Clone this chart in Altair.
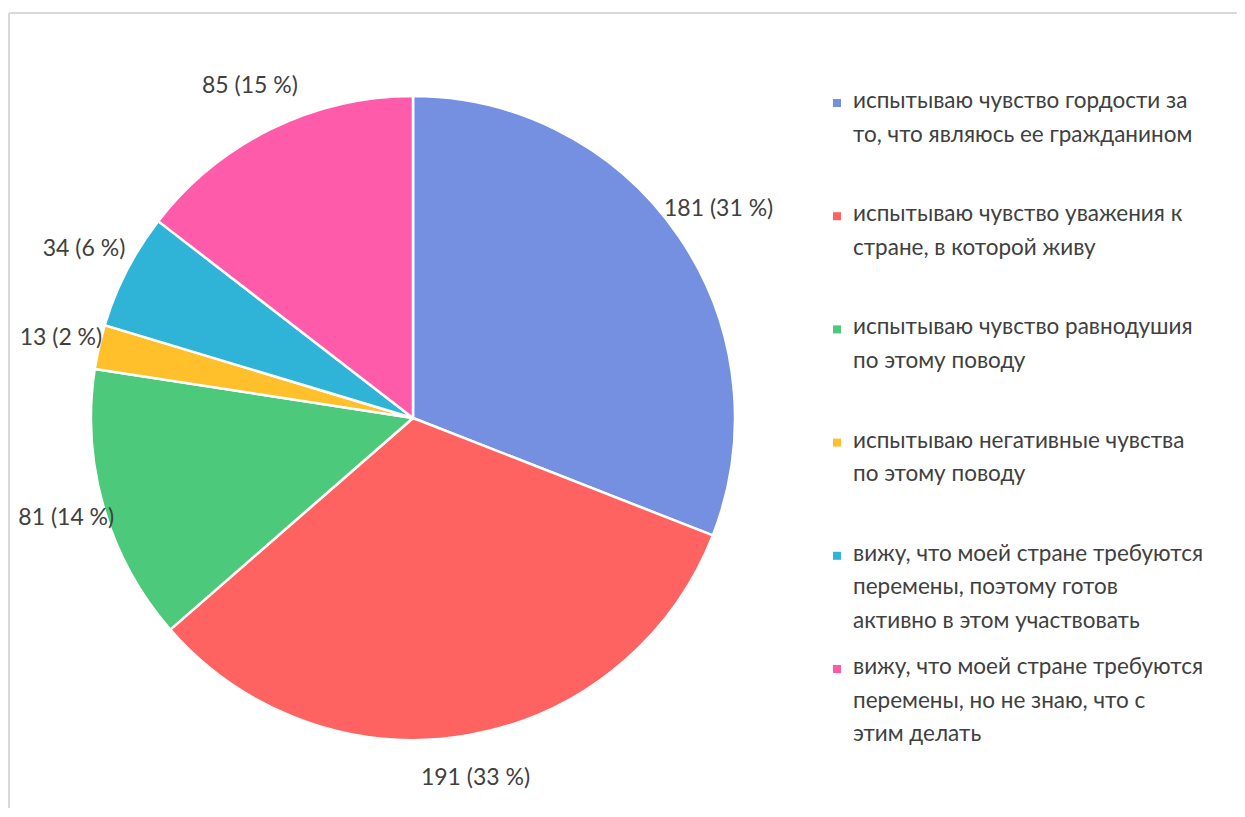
import altair as alt
import pandas as pd

categories = ["гордость", "уважение", "равнодушие", "негатив", "готов", "не знаю"]
legend_labels = [
    "испытываю чувство гордости за\nто, что являюсь ее гражданином",
    "испытываю чувство уважения к\nстране, в которой живу",
    "испытываю чувство равнодушия\nпо этому поводу",
    "испытываю негативные чувства\nпо этому поводу",
    "вижу, что моей стране требуются\nперемены, поэтому готов\nактивно в этом участвовать",
    "вижу, что моей стране требуются\nперемены, но не знаю, что с\nэтим делать",
]
counts = [181, 191, 81, 13, 34, 85]
percents = [31, 33, 14, 2, 6, 15]
colors = ["#7590E0", "#FF6361", "#4CC97A", "#FFC02B", "#2FB4D8", "#FF5BAB"]

df = pd.DataFrame({
    "cat": categories,
    "legend": legend_labels,
    "count": counts,
    "pct": percents,
    "idx": list(range(len(categories))),
})
df["label"] = [f"{c} ({p} %)" for c, p in zip(counts, percents)]

FONT = "Lato"
TXT = "#404040"
CX, CY, R = 405, 410, 322

base = alt.Chart(df)
color = alt.Color("cat:N", scale=alt.Scale(domain=categories, range=colors), legend=None)

pie = base.mark_arc(radius=R, stroke="white", strokeWidth=2.5).encode(
    theta=alt.Theta("count:Q", stack=True),
    color=color,
    order=alt.Order("idx:Q"),
    x=alt.value(CX), y=alt.value(CY),
)

# labels at each slice's middle angle; left side labels sit closer to the pie
labels = base.transform_joinaggregate(
    total="sum(count)"
).transform_window(
    cum="sum(count)", sort=[alt.SortField("idx")], frame=[None, 0]
).transform_calculate(
    midcount="datum.cum - datum.count / 2",
).transform_calculate(
    mid="datum.midcount / datum.total",
).transform_calculate(
    ring="datum.mid > 0.55 && datum.mid < 0.8 ? 'side' : (datum.mid > 0.4 && datum.mid <= 0.55 ? 'bottom' : 'top')",
).mark_text(font=FONT, fontSize=23, color=TXT).encode(
    theta=alt.Theta("midcount:Q", stack=None),
    radius=alt.Radius("ring:N", scale=alt.Scale(type="ordinal", domain=["side", "bottom", "top"], range=[361, 370, 386])),
    text="label:N",
    x=alt.value(CX), y=alt.value(CY),
)

yleg = alt.Y("cat:N", scale=alt.Scale(type="point", domain=categories, range=[95, 661], padding=0), axis=None)

leg_sym = base.mark_square(size=64, opacity=1).encode(
    y=yleg, x=alt.value(829), color=color,
)
leg_txt = base.mark_text(
    align="left", baseline="top", font=FONT, fontSize=22.5, color=TXT,
    lineBreak="\n", lineHeight=33.5, yOffset=-13,
).encode(
    y=yleg, x=alt.value(845), text="legend:N",
)

border_top = alt.Chart(df).mark_rule(color="#d9d9d9", strokeWidth=2).encode(
    x=alt.value(1), x2=alt.value(1229), y=alt.value(5), y2=alt.value(5))
border_left = alt.Chart(df).mark_rule(color="#d9d9d9", strokeWidth=2).encode(
    x=alt.value(1), x2=alt.value(1), y=alt.value(5), y2=alt.value(800))

chart = alt.layer(border_top, border_left, pie, labels, leg_sym, leg_txt).properties(
    width=1229, height=800, padding=0, autosize=alt.AutoSizeParams(type="none"),
).configure_view(stroke=None).resolve_scale(y="independent")

chart.save("out.html", embed_options={"renderer": "svg", "actions": False})
